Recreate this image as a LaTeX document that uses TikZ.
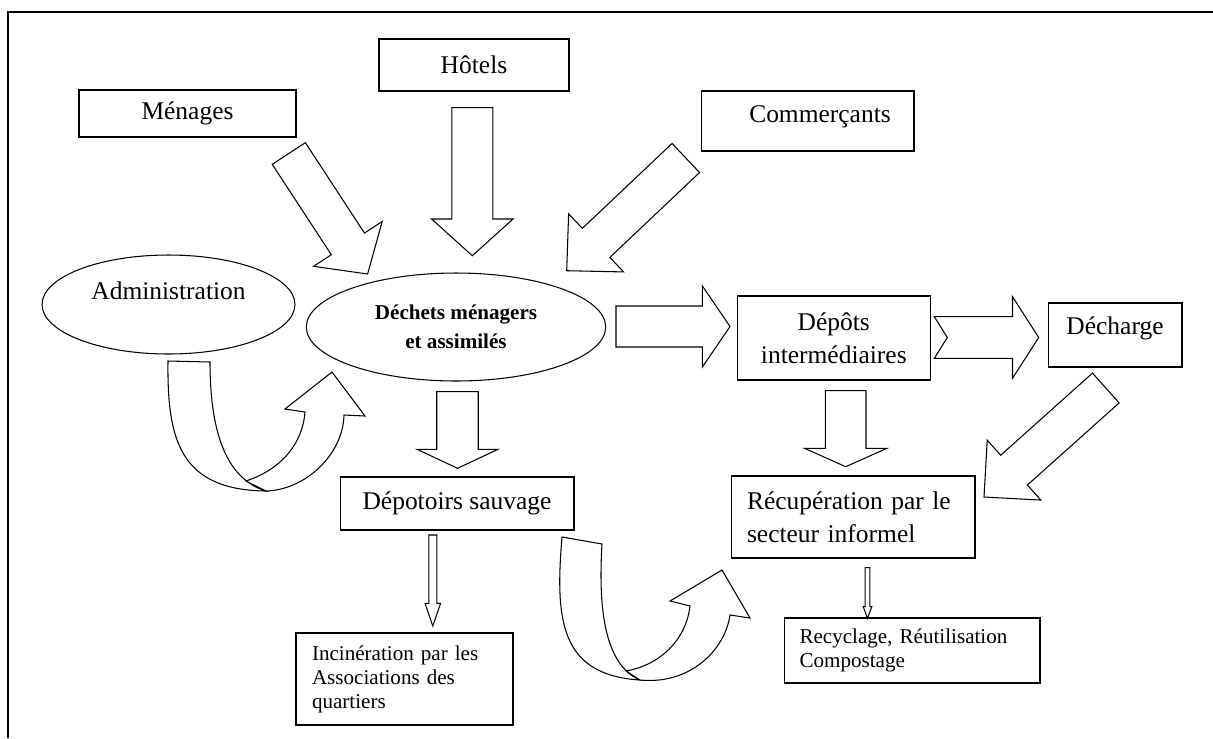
\documentclass[tikz,border=0pt]{standalone}
\usepackage{fontspec}
\setmainfont{Liberation Serif}
\usetikzlibrary{calc,shapes.geometric}

% tail, tip, shaft half width, head half width, head length, notch depth
\newcommand{\blkarrow}[6]{%
  \coordinate (hb) at ($(#2)!#5!(#1)$);
  \draw[blk] ($(#1)!#3!90:(#2)$) -- ($(hb)!#3!-90:(#1)$) -- ($(hb)!#4!-90:(#1)$) -- (#2)
    -- ($(hb)!#4!90:(#1)$) -- ($(hb)!#3!90:(#1)$) -- ($(#1)!#3!-90:(#2)$) -- ($(#1)!#6!(#2)$) -- cycle;}

\begin{document}
\begin{tikzpicture}[x=0.02cm,y=-0.02cm,
every node/.style={font=\fontsize{14.5}{19}\selectfont},
box/.style={draw,rectangle,line width=0.6pt},
oval/.style={draw,ellipse,inner sep=0pt,line width=0.6pt},
small/.style={font=\fontsize{12}{13.7}\selectfont},
blk/.style={draw,fill=white,line width=0.6pt}]
\useasboundingbox (0,0) rectangle (1213,738);
\draw[line width=1.5pt] (1213,12) -- (8,12) -- (8,738);

\node (hot) [box,minimum width=3.8cm,minimum height=1.04cm] at (474,65) {Hôtels};
\node (men) [box,minimum width=4.34cm,minimum height=0.94cm] at (187.5,113.5) {Ménages};
\node (com) [box,minimum width=4.26cm,minimum height=1.2cm,text depth=0.28cm] at (807.5,121) {\hspace*{0.5cm}Commerçants};
\node (adm) [oval,minimum width=5.06cm,minimum height=1.98cm,text depth=0.56cm] at (168.5,304.5) {Administration};
\node (dma) [oval,minimum width=5.99cm,minimum height=2.16cm,align=center,
    font=\bfseries\fontsize{12}{16.5}\selectfont] at (456,327) {Déchets ménagers\\et assimilés};
\node (dep) [box,minimum width=3.85cm,minimum height=1.68cm,align=center] at (833.8,338) {Dépôts\\intermédiaires};
\node (dch) [box,minimum width=2.68cm,minimum height=1.28cm,text depth=0.36cm] at (1115,335) {Décharge};
\node (dsv) [box,minimum width=4.68cm,minimum height=1.06cm] at (457,503.5) {Dépotoirs sauvage};
\node (inc) [box,small,minimum width=4.34cm,minimum height=1.84cm,
    inner xsep=0.32cm,text width=3.7cm,align=left] at (404.5,679) {Incinération par les\\Associations des\\quartiers};
\node (rec) [box,minimum width=4.88cm,minimum height=1.64cm,
    inner xsep=0.32cm,text width=4.24cm,align=left] at (853,517) {Récupération par le\\secteur informel};
\node (rcy) [box,small,minimum width=5.12cm,minimum height=1.3cm,
    inner xsep=0.31cm,text width=4.5cm,align=left] at (912,650.5) {Recyclage, Réutilisation\\Compostage};

\coordinate (menT) at (288.8,153.5); \coordinate (menH) at (367.6,274);
\coordinate (hotT) at (472.3,107.7); \coordinate (hotH) at (472.3,255.7);
\coordinate (comT) at (685.8,158);   \coordinate (comH) at (566.7,270.7);
\coordinate (depT) at (616,326.5);   \coordinate (depH) at (730,326.5);
\coordinate (dchT) at (934.3,337.5); \coordinate (dchH) at (1038.7,337.5);
\coordinate (dsvT) at (457.5,391.7); \coordinate (dsvH) at (457.5,468.3);
\coordinate (recT) at (845.7,390.7); \coordinate (recH) at (845.7,466.7);
\coordinate (rec2T) at (1105.8,388); \coordinate (rec2H) at (984,497);
\coordinate (incT) at (432.8,535);   \coordinate (incH) at (432.8,626);
\coordinate (rcyT) at (867.5,567.7); \coordinate (rcyH) at (867.5,618.3);

\blkarrow{menT}{menH}{0.396cm}{0.82cm}{0.72cm}{0cm}
\blkarrow{hotT}{hotH}{0.41cm}{0.814cm}{0.734cm}{0cm}
\blkarrow{comT}{comH}{0.40cm}{0.80cm}{0.81cm}{0cm}
\blkarrow{depT}{depH}{0.41cm}{0.81cm}{0.552cm}{0cm}
\blkarrow{dchT}{dchH}{0.416cm}{0.816cm}{0.524cm}{0.26cm}
\blkarrow{dsvT}{dsvH}{0.415cm}{0.81cm}{0.38cm}{0cm}
\blkarrow{recT}{recH}{0.406cm}{0.824cm}{0.368cm}{0cm}
\blkarrow{rec2T}{rec2H}{0.40cm}{0.804cm}{0.806cm}{0cm}
\blkarrow{incT}{incH}{0.08cm}{0.156cm}{0.454cm}{0cm}
\blkarrow{rcyT}{rcyH}{0.046cm}{0.085cm}{0.232cm}{0cm}

\draw[blk] (168,361) .. controls (167,440) and (180,490) .. (266,491)
    .. controls (230,480) and (210,440) .. (210,362) -- cycle;
\draw[blk] (266,491) .. controls (305,490) and (343,455) .. (344,415) -- (365,416) -- (332,372)
    -- (285,409) -- (305,412) .. controls (303,440) and (285,468) .. (246,481) -- cycle;
\draw[blk] (562,537) .. controls (555,620) and (560,675) .. (640,680)
    .. controls (605,665) and (598,610) .. (602,544) -- cycle;
\draw[blk] (640,680) .. controls (690,685) and (725,650) .. (730,615) -- (750,618) -- (722,570)
    -- (670,601) -- (690,606) .. controls (686,640) and (660,665) .. (626,671) -- cycle;
\end{tikzpicture}
\end{document}
